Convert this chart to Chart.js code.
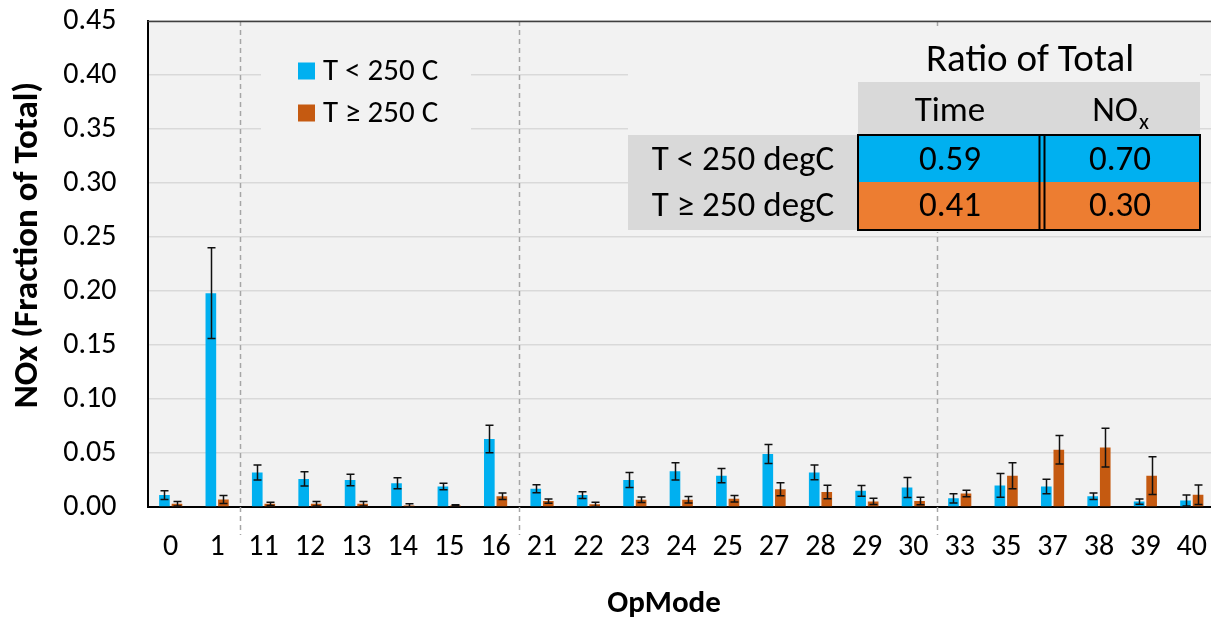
<!DOCTYPE html>
<html>
<head>
<meta charset="utf-8">
<script src="https://cdn.jsdelivr.net/npm/chart.js@4.4.0/dist/chart.umd.min.js"></script>
<style>
  html, body { margin: 0; padding: 0; background: #fff; overflow: hidden; }
  #wrap { width: 1216px; height: 622px; }
</style>
</head>
<body>
<div id="wrap"><canvas id="chartNox" width="1216" height="622"></canvas></div>
<script>
/* ---- data ---- */
const opModes = ['0', '1', '11', '12', '13', '14', '15', '16', '21', '22', '23', '24', '25',
                 '27', '28', '29', '30', '33', '35', '37', '38', '39', '40'];
const noxLow     = [0.011, 0.198, 0.032, 0.026, 0.025, 0.022, 0.019, 0.063, 0.017, 0.011, 0.025, 0.033,
                    0.029, 0.049, 0.032, 0.015, 0.018, 0.008, 0.020, 0.019, 0.010, 0.005, 0.006];
const noxLowErr  = [0.004, 0.042, 0.007, 0.0066, 0.0054, 0.005, 0.003, 0.0127, 0.0037, 0.0032, 0.007, 0.008,
                    0.0066, 0.0088, 0.0068, 0.005, 0.0092, 0.0043, 0.011, 0.0068, 0.003, 0.0025, 0.005];
const noxHigh    = [0.003, 0.007, 0.003, 0.003, 0.003, 0.0015, 0.0015, 0.010, 0.0055, 0.0025, 0.0067, 0.0067,
                    0.0077, 0.0164, 0.0139, 0.0052, 0.0055, 0.0126, 0.029, 0.053, 0.055, 0.029, 0.0114];
const noxHighErr = [0.002, 0.0037, 0.0015, 0.002, 0.002, 0.0015, 0.0005, 0.003, 0.002, 0.002, 0.0025, 0.003,
                    0.003, 0.006, 0.0062, 0.003, 0.0035, 0.003, 0.012, 0.0132, 0.018, 0.0175, 0.009];
const groupBreaks = [2, 8, 17];   // first category index after each dashed separator

const tableTitle = 'Ratio of Total';
const tableRows  = ['T < 250 degC', 'T ≥ 250 degC'];
const timeRatio  = ['0.59', '0.41'];
const noxRatio   = ['0.70', '0.30'];

const FONT = 'Carlito, Lato, sans-serif';
const BLUE = '#00B0F0', ORANGE = '#C55A11';

/* ---- decorations: plot background, separators, legend box, table, error bars ---- */
const decor = {
  id: 'decor',
  beforeDraw(chart) {
    const { ctx, chartArea: a } = chart;
    ctx.save();
    ctx.fillStyle = '#fff';
    ctx.fillRect(0, 0, chart.width, chart.height);
    ctx.fillStyle = '#F2F2F2';
    ctx.fillRect(a.left, a.top, chart.width - a.left, a.bottom - a.top);
    ctx.restore();
  },
  beforeDatasetsDraw(chart) {
    const { ctx, chartArea: a, scales: { x } } = chart;
    ctx.save();
    // dashed group separators
    ctx.strokeStyle = '#A6A6A6';
    ctx.lineWidth = 1.5;
    ctx.setLineDash([5, 4]);
    groupBreaks.forEach(i => {
      const px = Math.round((x.getPixelForTick(i - 1) + x.getPixelForTick(i)) / 2) + 0.5;
      ctx.beginPath();
      ctx.moveTo(px, a.top);
      ctx.lineTo(px, a.bottom + 28);
      ctx.stroke();
    });
    ctx.setLineDash([]);
    // legend + table backgrounds hide the grid
    ctx.fillStyle = '#F2F2F2';
    ctx.fillRect(261, 45, 210, 90);
    ctx.fillRect(628, 28, 572, 204);
    ctx.restore();
  },
  afterDatasetsDraw(chart) {
    const { ctx, scales: { y } } = chart;
    const errs = [noxLowErr, noxHighErr];
    ctx.save();
    ctx.strokeStyle = '#111';
    ctx.lineWidth = 1.5;
    chart.data.datasets.forEach((ds, d) => {
      chart.getDatasetMeta(d).data.forEach((bar, i) => {
        const v = ds.data[i], e = errs[d][i];
        const x0 = Math.round(bar.x) + 0.5;
        const yt = y.getPixelForValue(v + e), yb = y.getPixelForValue(Math.max(v - e, 0));
        ctx.beginPath();
        ctx.moveTo(x0, yt); ctx.lineTo(x0, yb);
        ctx.moveTo(x0 - 4, yt); ctx.lineTo(x0 + 4, yt);
        ctx.moveTo(x0 - 4, yb); ctx.lineTo(x0 + 4, yb);
        ctx.stroke();
      });
    });
    ctx.restore();
  },
  afterDraw(chart) {
    const { ctx, chartArea: a } = chart;
    ctx.save();
    // top frame line
    ctx.strokeStyle = '#404040';
    ctx.lineWidth = 1.5;
    ctx.beginPath();
    ctx.moveTo(a.left, a.top + 0.5); ctx.lineTo(chart.width, a.top + 0.5);
    ctx.stroke();

    // legend
    ctx.font = '31px ' + FONT;
    ctx.textBaseline = 'middle';
    ctx.textAlign = 'left';
    chart.data.datasets.forEach((ds, d) => {
      const cy = 71 + d * 42;
      ctx.fillStyle = ds.backgroundColor;
      ctx.fillRect(298, cy - 8.5, 17, 17);
      ctx.fillStyle = '#000';
      ctx.fillText(ds.label, 323, cy + 1);
    });

    // table
    const colX = [858, 1042, 1200];
    const rowY = [82, 135, 182, 230];
    ctx.fillStyle = '#D9D9D9';
    ctx.fillRect(colX[0], rowY[0], colX[2] - colX[0], rowY[1] - rowY[0]);
    ctx.fillRect(628, rowY[1], colX[0] - 628, rowY[3] - rowY[1]);
    ctx.fillStyle = BLUE;
    ctx.fillRect(colX[0], rowY[1], colX[2] - colX[0], rowY[2] - rowY[1]);
    ctx.fillStyle = '#ED7D31';
    ctx.fillRect(colX[0], rowY[2], colX[2] - colX[0], rowY[3] - rowY[2]);
    ctx.strokeStyle = '#000';
    ctx.lineWidth = 2;
    ctx.strokeRect(colX[0], rowY[1], colX[2] - colX[0], rowY[3] - rowY[1]);
    ctx.beginPath();
    ctx.moveTo(colX[1] - 2.5, rowY[1]); ctx.lineTo(colX[1] - 2.5, rowY[3]);
    ctx.moveTo(colX[1] + 2.5, rowY[1]); ctx.lineTo(colX[1] + 2.5, rowY[3]);
    ctx.stroke();

    ctx.fillStyle = '#000';
    ctx.textAlign = 'center';
    ctx.font = '39px ' + FONT;
    ctx.fillText(tableTitle, 1030, 61);
    ctx.font = '35px ' + FONT;
    const c1 = 950, c2 = 1120;
    const hy = 112;
    ctx.fillText('Time', c1, hy);
    // NOx with subscript x
    const wNO = ctx.measureText('NO').width;
    ctx.font = '23px ' + FONT;
    const wx = ctx.measureText('x').width;
    const sx = c2 - (wNO + wx) / 2;
    ctx.textAlign = 'left';
    ctx.fillText('x', sx + wNO + 1, hy + 11);
    ctx.font = '35px ' + FONT;
    ctx.fillText('NO', sx, hy);
    ctx.textAlign = 'center';
    [161, 207].forEach((cy, i) => {
      ctx.fillText(tableRows[i], 743, cy);
      ctx.fillText(timeRatio[i], c1, cy);
      ctx.fillText(noxRatio[i], c2, cy);
    });

    // axis titles
    ctx.font = 'bold 31px ' + FONT;
    ctx.fillText('OpMode', 664, 604);
    ctx.font = 'bold 35px ' + FONT;
    ctx.translate(28, 245);
    ctx.rotate(-Math.PI / 2);
    ctx.fillText('NOx (Fraction of Total)', 0, 0);
    ctx.restore();
  }
};

function drawChart() {
  new Chart(document.getElementById('chartNox'), {
    type: 'bar',
    data: {
      labels: opModes,
      datasets: [
        { label: 'T < 250 C', data: noxLow, backgroundColor: BLUE },
        { label: 'T ≥ 250 C', data: noxHigh, backgroundColor: ORANGE }
      ]
    },
    options: {
      responsive: false,
      animation: false,
      categoryPercentage: 0.54,
      barPercentage: 0.85,
      layout: { padding: { top: 21, right: 1, left: 0, bottom: 0 } },
      plugins: { legend: { display: false }, tooltip: { enabled: false } },
      scales: {
        x: {
          grid: { display: false, drawTicks: false },
          border: { color: '#000', width: 2 },
          ticks: { font: { family: FONT, size: 30 }, color: '#000', padding: 22, autoSkip: false, maxRotation: 0 },
          afterFit: s => { s.height = 115; s.paddingLeft = 0; s.paddingRight = 0; }
        },
        y: {
          min: 0, max: 0.45,
          grid: { color: '#D9D9D9', lineWidth: 1.5, drawTicks: false },
          border: { color: '#000', width: 2 },
          ticks: { stepSize: 0.05, callback: v => v.toFixed(2), font: { family: FONT, size: 30 }, color: '#000', padding: 31 },
          afterFit: s => { s.width = 147.5; s.paddingTop = 0; s.paddingBottom = 0; }
        }
      }
    },
    plugins: [decor]
  });
}

document.fonts.load('27px Lato').then(() => document.fonts.load('bold 27px Lato')).then(drawChart, drawChart);
</script>
</body>
</html>
